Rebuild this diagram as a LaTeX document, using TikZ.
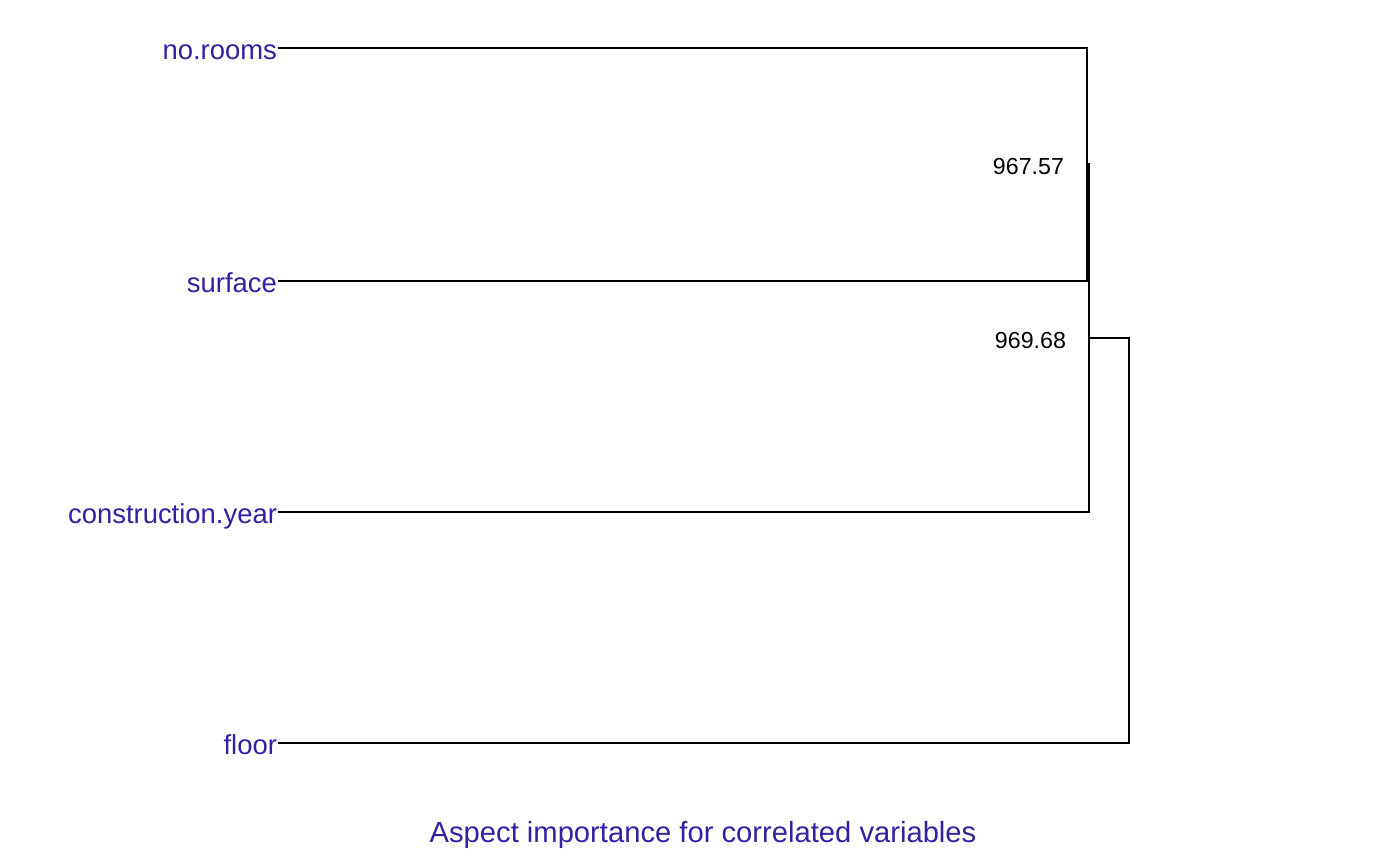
\documentclass[tikz,border=0pt]{standalone}
\usepackage{fontspec}
\setmainfont{Liberation Sans}
\definecolor{drwhy}{HTML}{371EA3}
\tikzset{
	leaf/.style={text=drwhy, anchor=east, inner sep=0pt, text height=6.3pt, text depth=0pt, font=\fontsize{7.8}{9}\selectfont},
	altura/.style={text=black, anchor=east, inner sep=0pt, font=\fontsize{6.6}{8}\selectfont},
}
\begin{document}
\begin{tikzpicture}[x=0.01cm,y=-0.01cm,line width=0.6pt]
		\useasboundingbox (0,0) rectangle (1400,866);
		% As folhas...
			\node[leaf] (rooms) at (278,48) {no.rooms};
			\node[leaf] (surface) at (278,281) {surface};
			\node[leaf] (year) at (278,512) {construction.year};
			\node[leaf] (floor) at (278,743) {floor};

		% Os pontos de juncao
			\coordinate (m1) at (1087,164.5);
			\coordinate (m2) at (1089,338);
			\coordinate (m3) at (1129,540.5);

		% Os ramos
			\draw (rooms.east) -| (m1) |- (surface.east);
			\draw (m1) -| (m2) |- (year.east);
			\draw (m2) -| (m3) |- (floor.east);

		% As alturas
			\node[altura] (h1) at (1065,167) {967.57};
			\node[altura] (h2) at (1067,340) {969.68};

			\node[text=drwhy, font=\fontsize{8.3}{10}\selectfont] (titulo) at (703,835) {Aspect importance for correlated variables};
	\end{tikzpicture}
\end{document}
